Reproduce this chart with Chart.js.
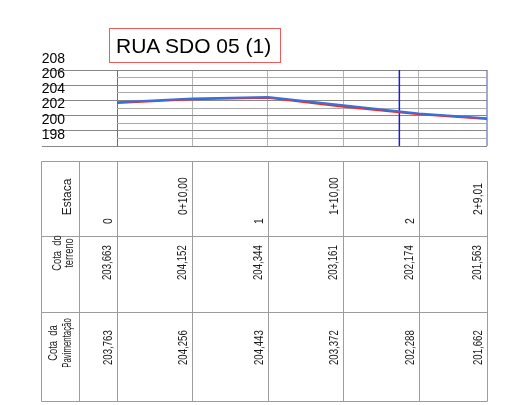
<!DOCTYPE html>
<html>
<head>
<meta charset="utf-8">
<script src="https://cdn.jsdelivr.net/npm/chart.js@4.4.1/dist/chart.umd.min.js"></script>
<style>
  html, body { margin: 0; padding: 0; background: #fff; }
  #wrap { position: relative; width: 508px; height: 405px; }
  #chart { position: absolute; left: 0; top: 0; }
  #title {
    position: absolute; left: 109px; top: 28px; width: 164px; height: 33px;
    border: 1px solid #ec5b5b; padding-left: 6px;
    font: 21px "Liberation Sans", Arial, sans-serif; line-height: 34px; color: #000;
  }
</style>
</head>
<body>
<div id="wrap">
  <canvas id="chart" width="508" height="405"></canvas>
  <div id="title">RUA SDO 05 (1)</div>
</div>
<script>
// distancias das estacas (m) e rotulos
const stations = [0, 10, 20, 30, 40, 49.01];
const stationLabels = ["0", "0+10,00", "1", "1+10,00", "2", "2+9,01"];
const cotaTerreno = [203.663, 204.152, 204.344, 203.161, 202.174, 201.563];
const cotaPavimentacao = [203.763, 204.256, 204.443, 203.372, 202.288, 201.662];
const yMin = 198;
const yMax = 208;
const markerX = 37.4;

const fmt = (v) => v.toFixed(3).replace(".", ",");
const pts = (arr) => stations.map((x, i) => ({ x, y: arr[i] }));

function vtext(ctx, txt, x, y, align, sx) {
  ctx.save();
  ctx.translate(x, y);
  ctx.rotate(-Math.PI / 2);
  ctx.scale(sx, 1);
  ctx.textAlign = align;
  ctx.textBaseline = "middle";
  ctx.fillText(txt, 0, 0);
  ctx.restore();
}

// tabela abaixo do perfil, colunas alinhadas com as estacas
const tablePlugin = {
  id: "tabela",
  afterDraw(chart) {
    const ctx = chart.ctx;
    const xs = chart.scales.x;
    const rows = [161.5, 236.5, 312.5, 401.5];
    const cols = [41.5, 79.5, ...stations.map((v) => Math.round(xs.getPixelForValue(v)) + 0.5)];
    const right = cols[cols.length - 1];
    ctx.save();
    ctx.strokeStyle = "#9c9c9c";
    ctx.lineWidth = 1;
    ctx.beginPath();
    rows.forEach((y) => { ctx.moveTo(cols[0], y); ctx.lineTo(right, y); });
    cols.forEach((x) => { ctx.moveTo(x, rows[0]); ctx.lineTo(x, rows[3]); });
    ctx.stroke();

    ctx.fillStyle = "#1a1a1a";
    ctx.font = '13px "Liberation Sans", Arial, sans-serif';
    vtext(ctx, "Estaca", 67, 197, "center", 0.92);
    vtext(ctx, "Cota  do", 57, 253, "center", 0.72);
    vtext(ctx, "terreno", 69, 253, "center", 0.72);
    vtext(ctx, "Cota  da", 53, 343, "center", 0.72);
    vtext(ctx, "Pavimentação", 67, 343, "center", 0.6);

    stations.forEach((v, i) => {
      const cr = cols[i + 2];
      const lab = stationLabels[i];
      vtext(ctx, lab, cr - 9, lab.includes("+") ? 215 : 224, "left", 0.8);
      vtext(ctx, fmt(cotaTerreno[i]), cr - 10, 280, "left", 0.74);
      vtext(ctx, fmt(cotaPavimentacao[i]), cr - 9, 365, "left", 0.74);
    });
    ctx.restore();
  },
};

new Chart(document.getElementById("chart"), {
  type: "scatter",
  data: {
    datasets: [
      {
        label: "Cota da Pavimentação",
        data: pts(cotaPavimentacao),
        showLine: true,
        borderColor: "#3273e0",
        borderWidth: 2,
        pointRadius: 0,
      },
      {
        label: "Cota do terreno",
        data: pts(cotaTerreno),
        showLine: true,
        borderColor: "#f02a2a",
        borderWidth: 2,
        pointRadius: 0,
      },
      {
        label: "marco",
        data: [{ x: markerX, y: yMin }, { x: markerX, y: yMax }],
        showLine: true,
        borderColor: "#1c1ce0",
        borderWidth: 1.5,
        pointRadius: 0,
      },
    ],
  },
  options: {
    responsive: false,
    animation: false,
    layout: { padding: { left: 42, top: 70, right: 21, bottom: 259 } },
    plugins: { legend: { display: false }, tooltip: { enabled: false } },
    scales: {
      x: {
        type: "linear",
        min: stations[0],
        max: stations[stations.length - 1],
        afterBuildTicks: (s) => { s.ticks = stations.map((v) => ({ value: v })); },
        afterFit: (s) => { s.height = 0; },
        ticks: { display: false, autoSkip: false },
        border: { display: false },
        grid: {
          drawTicks: false,
          color: (c) => (c.index === 0 ? "#6b6b8a" : c.index === stations.length - 1 ? "#a5a5d6" : "#b4b4b4"),
          lineWidth: (c) => (c.index === stations.length - 1 ? 2 : 1),
        },
      },
      y: {
        min: yMin,
        max: yMax,
        afterFit: (s) => { s.width = 75; },
        border: { display: false },
        ticks: {
          stepSize: 1,
          autoSkip: false,
          labelOffset: -11,
          padding: -23,
          color: "#000",
          font: { family: '"Liberation Sans", Arial, sans-serif', size: 14 },
          callback: (v) => (v % 2 === 0 ? String(v) : ""),
        },
        grid: {
          color: (c) => (c.tick.value % 2 === 0 ? "#878787" : "#ababab"),
          tickColor: (c) => (c.tick.value % 2 === 0 ? "#878787" : "rgba(0,0,0,0)"),
          tickLength: 75,
        },
      },
    },
  },
  plugins: [tablePlugin],
});
</script>
</body>
</html>
